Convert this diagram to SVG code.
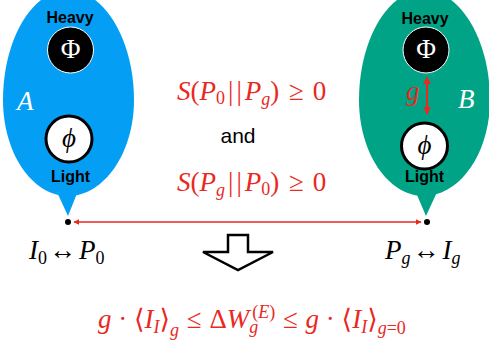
<svg xmlns="http://www.w3.org/2000/svg" width="489" height="350" viewBox="0 0 489 350">
<defs>
<style>
.sans{font-family:"Liberation Sans",Arial,sans-serif;font-weight:bold;font-size:16px;text-anchor:middle;fill:#000}
.and{font-family:"Liberation Sans",Arial,sans-serif;font-size:21px;text-anchor:middle;fill:#000}
.m{font-family:"Liberation Serif","DejaVu Serif",serif;font-size:27px}
.red{fill:#e8291f}
.it{font-style:italic}
.sub{font-size:18px}
</style>
<marker id="ah" viewBox="0 0 10 10" refX="9" refY="5" markerWidth="6" markerHeight="6" orient="auto-start-reverse" markerUnits="userSpaceOnUse">
<path d="M0,0 L10,5 L0,10 Z" fill="#e8291f"/>
</marker>
<marker id="ah2" viewBox="0 0 10 10" refX="9" refY="5" markerWidth="8" markerHeight="8" orient="auto-start-reverse" markerUnits="userSpaceOnUse">
<path d="M0,0 L10,5 L0,10 Z" fill="#e8291f"/>
</marker>
</defs>

<g id="nodeA">
<path d="M68,-10 C104,-10 134,40 134,100 C134,153 104,196 68,196 C32,196 3,153 3,100 C3,40 32,-10 68,-10 Z" fill="#049ff5"/>
<polygon points="56,190 80,186 68,216" fill="#049ff5"/>
<text x="70" y="23" class="sans">Heavy</text>
<circle cx="70.5" cy="50" r="23" fill="#000" stroke="#fff" stroke-width="1"/>
<text x="70.5" y="58" class="m" text-anchor="middle" fill="#fff" font-size="22">Φ</text>
<text x="17" y="110" class="m it" fill="#fff" font-size="33">A</text>
<circle cx="69" cy="139" r="23" fill="#fff" stroke="#000" stroke-width="3"/>
<text x="69" y="147" class="m it" text-anchor="middle" font-size="25">ϕ</text>
<text x="70.5" y="182" class="sans">Light</text>
</g>

<g id="nodeB">
<path d="M424,-10 C460,-10 490,40 490,100 C490,153 460,196 424,196 C388,196 359,153 359,100 C359,40 388,-10 424,-10 Z" fill="#00a385"/>
<polygon points="414,188 438,190 426,216" fill="#00a385"/>
<text x="425" y="24" class="sans">Heavy</text>
<circle cx="426" cy="50" r="23" fill="#000" stroke="#fff" stroke-width="1"/>
<text x="426" y="58" class="m" text-anchor="middle" fill="#fff" font-size="22">Φ</text>
<text x="458" y="108" class="m it" fill="#fff" font-size="33">B</text>
<circle cx="424.5" cy="146" r="23" fill="#fff" stroke="#000" stroke-width="3"/>
<text x="424.5" y="154" class="m it" text-anchor="middle" font-size="25">ϕ</text>
<text x="424.5" y="182" class="sans">Light</text>
<text x="406" y="100" class="m it red" font-size="26">g</text>
</g>

<g id="pointA">
<circle cx="68" cy="222" r="3" fill="#000"/>
<text x="29" y="259" class="m" font-size="26"><tspan class="it">I</tspan><tspan class="sub" dy="5">0</tspan><tspan dy="-5" dx="2">↔</tspan><tspan class="it" dx="3">P</tspan><tspan class="sub" dy="5">0</tspan></text>
</g>

<g id="pointB">
<circle cx="427" cy="222" r="3" fill="#000"/>
<text x="385" y="259" class="m" font-size="26"><tspan class="it">P</tspan><tspan class="sub it" dy="5">g</tspan><tspan dy="-5" dx="2">↔</tspan><tspan class="it" dx="3">I</tspan><tspan class="sub it" dy="5">g</tspan></text>
</g>

<g id="relations">
<text x="177" y="100" class="m red"><tspan class="it">S</tspan>(<tspan class="it">P</tspan><tspan class="sub" dy="4">0</tspan><tspan dy="-4" dx="3">|</tspan><tspan dx="3">|</tspan><tspan class="it" dx="3">P</tspan><tspan class="sub it" dy="5">g</tspan><tspan dy="-5">)</tspan><tspan dx="3"> ≥</tspan><tspan dx="2"> 0</tspan></text>
<text x="238" y="143" class="and">and</text>
<text x="177" y="191" class="m red"><tspan class="it">S</tspan>(<tspan class="it">P</tspan><tspan class="sub it" dy="5">g</tspan><tspan dy="-5" dx="3">|</tspan><tspan dx="3">|</tspan><tspan class="it" dx="3">P</tspan><tspan class="sub" dy="4">0</tspan><tspan dy="-4">)</tspan><tspan dx="3"> ≥</tspan><tspan dx="2"> 0</tspan></text>
</g>

<g id="result">
<polygon points="228,235 248,235 248,252 273,252 238,270 203,252 228,252" fill="#fff" stroke="#000" stroke-width="2.5" stroke-linejoin="miter"/>
<text x="98" y="328" class="m red"><tspan class="it">g</tspan> · ⟨<tspan class="it">I</tspan><tspan class="sub it" dy="5">I</tspan><tspan dy="-5">⟩</tspan><tspan class="sub it" dy="8">g</tspan><tspan dy="-8" dx="1"> ≤</tspan><tspan dx="1"> Δ</tspan><tspan class="it">W</tspan><tspan class="sub it" dy="5">g</tspan><tspan class="sub" dx="-6" dy="-15">(<tspan class="it">E</tspan>)</tspan><tspan dy="10" dx="1"> ≤</tspan><tspan dx="1"> </tspan><tspan class="it">g</tspan> · ⟨<tspan class="it">I</tspan><tspan class="sub it" dy="5">I</tspan><tspan dy="-5">⟩</tspan><tspan class="sub it" dy="6">g</tspan><tspan class="sub">=0</tspan></text>
</g>

<g id="connectors">
<line x1="74" y1="222" x2="421" y2="222" stroke="#e8291f" stroke-width="1.5" marker-start="url(#ah)" marker-end="url(#ah)"/>
<line x1="427" y1="77" x2="427" y2="114" stroke="#e8291f" stroke-width="2" marker-start="url(#ah2)" marker-end="url(#ah2)"/>
</g>
</svg>
